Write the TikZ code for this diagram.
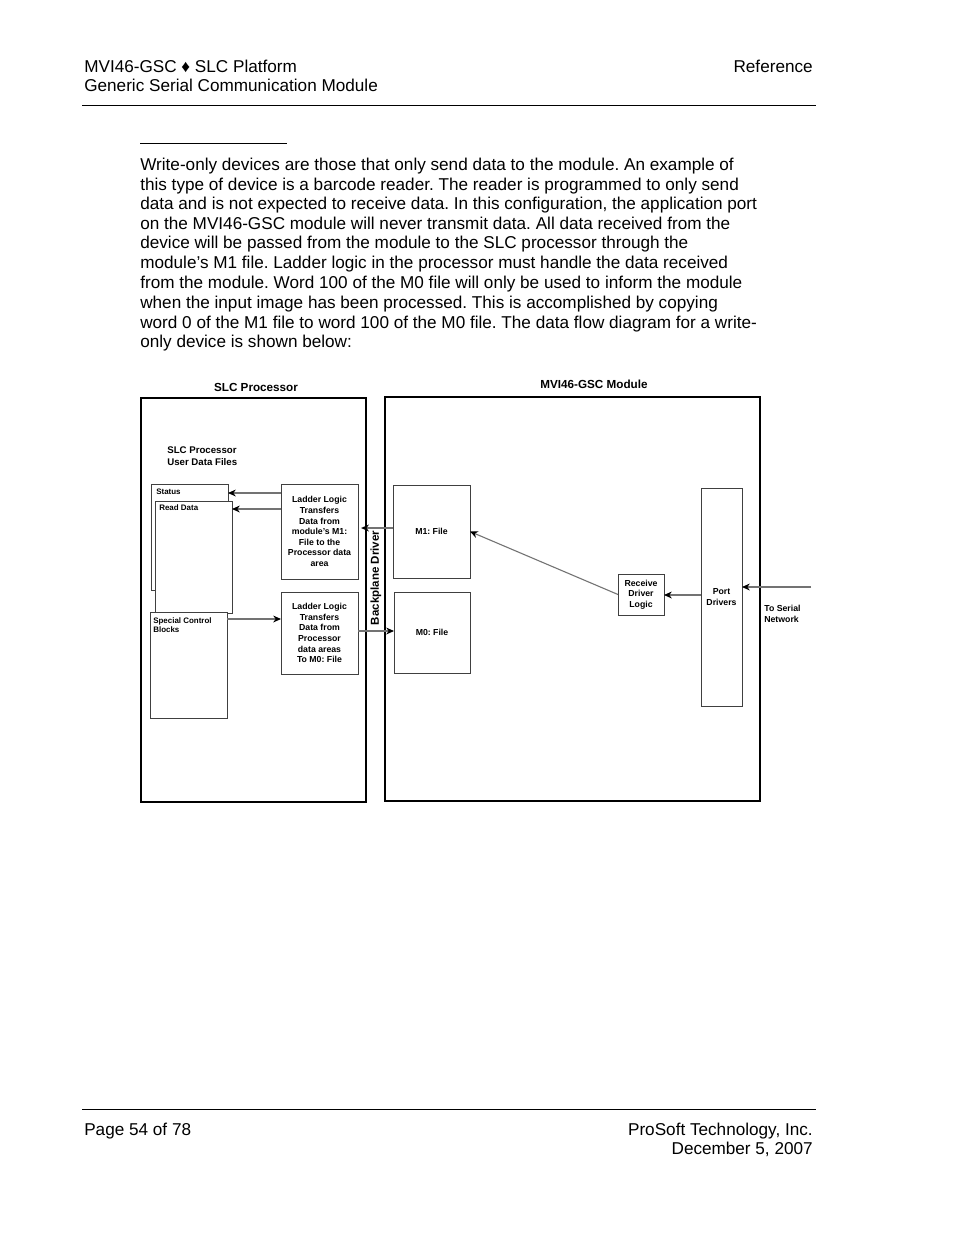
\documentclass[tikz,border=0pt]{standalone}
\usepackage{fontspec}
\setmainfont{Liberation Sans}
\usetikzlibrary{arrows.meta}
\frenchspacing
\newcommand\mybox[7]{%
  \node[#1, minimum width={(#5-#3)*0.6415pt}, minimum height={(#6-#4)*0.6415pt}] (#2) at ({(#3+#5)/2},{(#4+#6)/2}) {#7};}
\begin{document}
\frenchspacing
\begin{tikzpicture}[x=0.6415pt,y=-0.6415pt,
  txt/.style={inner sep=0, anchor=base west, font=\fontsize{11}{13}\selectfont},
  txtr/.style={inner sep=0, anchor=base east, font=\fontsize{11}{13}\selectfont},
  rule/.style={line width=0.6pt},
  big/.style={draw, line width=1.4pt, inner sep=0, outer sep=0},
  bx/.style={draw=black!75, line width=0.6pt, fill=white, inner sep=0, outer sep=0, align=center, font=\fontsize{5.6}{6.8}\selectfont\bfseries},
  lbl/.style={inner sep=0, anchor=west, align=left, font=\fontsize{5.1}{6}\selectfont\bfseries},
  ttl/.style={inner sep=0, font=\fontsize{7.5}{9}\selectfont\bfseries},
  arr/.style={draw=black!55, line width=0.7pt, -{Stealth[length=5pt,width=4.4pt,inset=1.6pt,color=black]}}
]
\useasboundingbox[fill=white] (0,0) rectangle (954,1235);

% header and footer
\node[txt] (h1) at (84,72) {MVI46-GSC ♦ SLC Platform};
\node[txt] (h2) at (84,91) {Generic Serial Communication Module};
\node[txtr] (h3) at (813,72) {Reference};
\draw[rule] (82,105) -- (816,105);
\draw[rule] (140,143) -- (287,143);
\draw[rule] (82,1109) -- (816,1109);
\node[txt] (f1) at (84,1135) {Page 54 of 78};
\node[txtr] (f2) at (813,1135) {ProSoft Technology, Inc.};
\node[txtr] (f3) at (813,1154) {December 5, 2007};

% paragraph
\node[txt] (p1) at (140,170) {Write-only devices are those that only send data to the module. An example of};
\node[txt] (p2) at (140,190) {this type of device is a barcode reader. The reader is programmed to only send};
\node[txt] (p3) at (140,209) {data and is not expected to receive data. In this configuration, the application port};
\node[txt] (p4) at (140,229) {on the MVI46-GSC module will never transmit data. All data received from the};
\node[txt] (p5) at (140,248) {device will be passed from the module to the SLC processor through the};
\node[txt] (p6) at (140,268) {module\char"0027 s M1 file. Ladder logic in the processor must handle the data received};
\node[txt] (p7) at (140,288) {from the module. Word 100 of the M0 file will only be used to inform the module};
\node[txt] (p8) at (140,308) {when the input image has been processed. This is accomplished by copying};
\node[txt] (p9) at (140,328) {word 0 of the M1 file to word 100 of the M0 file. The data flow diagram for a write-};
\node[txt] (p10) at (140,347) {only device is shown below:};

% diagram titles and outer boxes
\node[ttl] (tslc) at (256,387) {SLC Processor};
\node[ttl] (tmod) at (594,384) {MVI46-GSC Module};
\mybox{big}{slc}{141}{398}{366}{802}{}
\mybox{big}{mod}{385}{397}{760}{801}{}

\node[inner sep=0, anchor=west, align=left, font=\fontsize{6.2}{7.7}\selectfont\bfseries] (udf) at (167,456) {SLC Processor\\User Data Files};

% data file boxes
\mybox{bx}{status}{151}{484}{228}{590}{}
\node[lbl] (lstatus) at (156,492) {Status};
\mybox{bx}{read}{155}{501}{232}{613}{}
\node[lbl] (lread) at (159,508) {Read Data};
\mybox{bx}{spc}{150}{612}{227}{718}{}
\node[lbl] (lspc) at (153,625) {Special Control\\Blocks};

% ladder logic boxes
\mybox{bx}{lad1}{281}{484}{358}{579}{Ladder Logic\\Transfers\\Data from\\module\char"0027 s M1:\\File to the\\Processor data\\area}
\mybox{bx}{lad2}{281}{592}{358}{674}{Ladder Logic\\Transfers\\Data from\\Processor\\data areas\\To M0: File}

% module boxes
\mybox{bx}{m1}{393}{485}{470}{578}{M1: File}
\mybox{bx}{m0}{394}{592}{470}{673}{M0: File}
\mybox{bx}{recv}{618}{574}{664}{615}{Receive\\Driver\\Logic}
\mybox{bx}{port}{701}{488}{742}{706}{Port\\Drivers}

\node[inner sep=0, rotate=90, font=\fontsize{7.4}{9}\selectfont\bfseries] (bpd) at (376,578) {Backplane Driver};
\node[lbl, font=\fontsize{5.6}{6.8}\selectfont\bfseries] (tsn) at (764,614) {To Serial\\Network};

% helper coordinates
\coordinate (y493) at (0,493);
\coordinate (y509) at (0,509);
\coordinate (y619) at (0,619);
\coordinate (y631) at (0,631);
\coordinate (y528) at (0,528);
\coordinate (y595) at (0,595);
\coordinate (net) at (811,587);

% connectors
\draw[arr] (lad1.west |- y493) -- (status.east |- y493);
\draw[arr] (lad1.west |- y509) -- (read.east |- y509);
\draw[arr] (spc.east |- y619) -- (lad2.west |- y619);
\draw[arr, shorten >=2pt] (m1.west |- y528) -- (lad1.east |- y528);
\draw[arr] (lad2.east |- y631) -- (m0.west |- y631);
\draw[arr] (recv.west) -- (m1.east);
\draw[arr] (port.west |- y595) -- (recv.east |- y595);
\draw[arr] (net) -- (port.east |- net);
\end{tikzpicture}
\end{document}
